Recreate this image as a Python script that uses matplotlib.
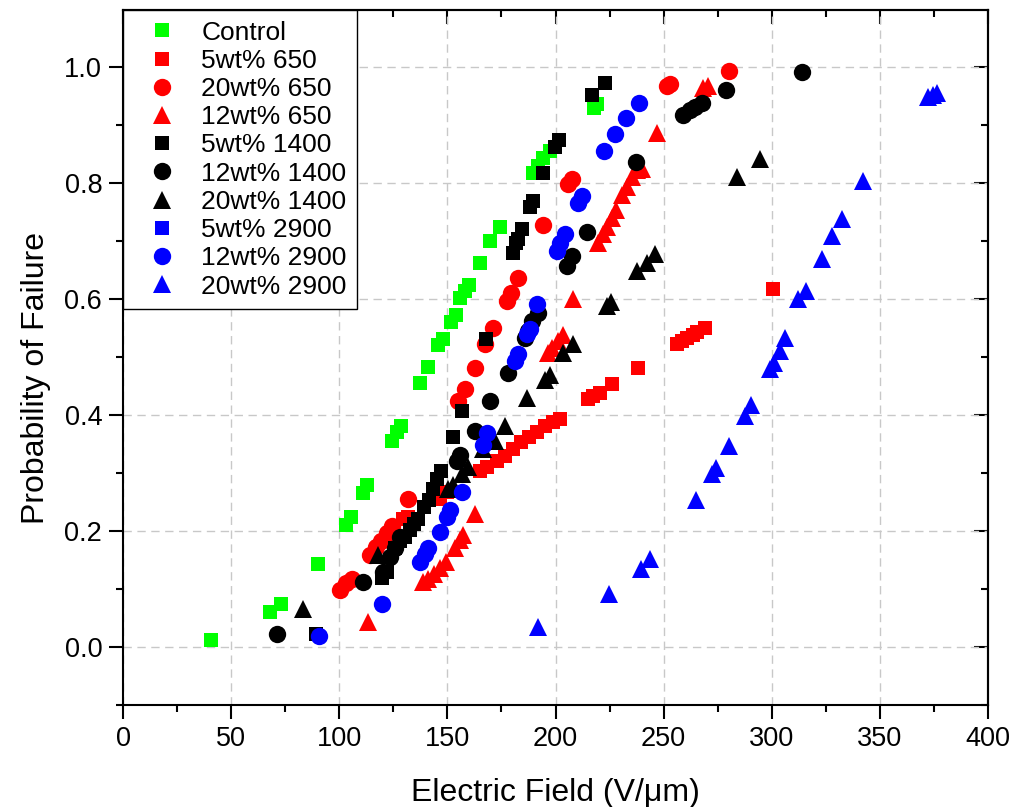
import matplotlib
matplotlib.use("Agg")
import matplotlib.pyplot as plt
from matplotlib.ticker import MultipleLocator

plt.rcParams['font.family'] = ['Liberation Sans', 'DejaVu Sans']

# breakdown field (V/um) and probability of failure
control_x = [40.7, 68, 73, 90, 103, 105.4, 111, 113, 124.4, 126.7, 128.6, 137.3, 141, 145.7, 148,
             151.7, 154, 155.8, 158, 160, 165, 169.7, 174.3, 189.6, 192, 194, 197.5, 217.8, 219]
control_y = [0.012, 0.061, 0.074, 0.144, 0.211, 0.225, 0.266, 0.279, 0.356, 0.37, 0.382, 0.455, 0.483,
             0.521, 0.531, 0.561, 0.573, 0.602, 0.614, 0.625, 0.663, 0.701, 0.725, 0.817, 0.83, 0.843,
             0.855, 0.929, 0.936]

s5_650_x = [129.5, 131.8, 146.6, 149.8, 165.1, 168.3, 172.9, 176.6, 180.3, 184.0, 187.7, 191.4, 195.1,
            198.8, 202.1, 215.0, 217.3, 220.6, 226.1, 238.2, 256.2, 258.5, 260.8, 263.6, 265.4, 269.1, 300.6]
s5_650_y = [0.220, 0.225, 0.256, 0.268, 0.303, 0.311, 0.320, 0.329, 0.341, 0.353, 0.362, 0.370, 0.381,
            0.388, 0.393, 0.427, 0.433, 0.438, 0.453, 0.481, 0.522, 0.528, 0.533, 0.538, 0.543, 0.550, 0.618]

s20_650_x = [100.3, 103.1, 105.9, 114.2, 117.0, 119.3, 122.1, 124.4, 131.8, 154.9, 158.2, 162.8, 167.4,
             171.1, 177.6, 179.4, 182.7, 194.2, 205.8, 207.6, 251.6, 252.9, 280.2]
s20_650_y = [0.099, 0.111, 0.118, 0.159, 0.173, 0.182, 0.196, 0.208, 0.256, 0.424, 0.445, 0.481, 0.522,
             0.550, 0.597, 0.611, 0.637, 0.727, 0.799, 0.808, 0.967, 0.971, 0.993]

s12_650_x = [113.3, 138.7, 141.0, 143.8, 146.6, 149.4, 153.5, 155.8, 157.2, 162.8, 196.5, 198.4, 201.2,
             203.5, 208.1, 219.7, 222.0, 223.8, 226.1, 228.0, 230.8, 233.1, 235.4, 237.7, 240.0, 246.9,
             268.2, 270.5]
s12_650_y = [0.043, 0.112, 0.118, 0.126, 0.137, 0.147, 0.171, 0.185, 0.194, 0.230, 0.507, 0.516, 0.528,
             0.538, 0.600, 0.697, 0.713, 0.725, 0.740, 0.754, 0.780, 0.794, 0.811, 0.822, 0.825, 0.886,
             0.964, 0.967]

s5_1400_x = [89.2, 119.8, 122.1, 125.8, 128.1, 130.4, 132.7, 134.6, 136.4, 139.2, 141.5, 143.4, 145.2,
             147.1, 152.6, 156.8, 167.9, 180.3, 181.7, 182.7, 184.5, 188.2, 189.6, 194.2, 199.8, 201.6,
             216.9, 222.9]
s5_1400_y = [0.022, 0.119, 0.130, 0.171, 0.182, 0.190, 0.202, 0.213, 0.220, 0.242, 0.254, 0.272, 0.289,
             0.303, 0.363, 0.407, 0.531, 0.680, 0.696, 0.704, 0.721, 0.758, 0.770, 0.817, 0.862, 0.874,
             0.952, 0.972]

s12_1400_x = [71.2, 111.0, 120.2, 123.5, 125.8, 128.1, 154.5, 155.8, 162.8, 169.7, 178.0, 185.9, 187.3,
              189.1, 191.9, 205.3, 207.6, 214.6, 237.2, 259.0, 262.2, 264.5, 267.7, 278.8, 314.0]
s12_1400_y = [0.022, 0.112, 0.130, 0.156, 0.170, 0.190, 0.320, 0.332, 0.372, 0.424, 0.472, 0.533, 0.545,
              0.562, 0.576, 0.657, 0.675, 0.716, 0.836, 0.917, 0.926, 0.931, 0.939, 0.960, 0.991]

s20_1400_x = [83.2, 117.9, 150.3, 152.6, 156.8, 159.5, 166.5, 172.0, 176.6, 186.8, 195.1, 197.5, 203.5,
              208.1, 223.8, 225.7, 237.7, 242.3, 246.0, 283.9, 294.6]
s20_1400_y = [0.066, 0.159, 0.272, 0.280, 0.298, 0.310, 0.341, 0.355, 0.381, 0.429, 0.460, 0.469, 0.507,
              0.522, 0.588, 0.595, 0.649, 0.663, 0.678, 0.811, 0.841]

s5_2900_x = []
s5_2900_y = []

s12_2900_x = [90.6, 119.8, 137.3, 139.7, 141.0, 146.6, 149.8, 151.2, 156.8, 166.5, 168.3, 181.3, 182.7,
              186.8, 188.2, 191.4, 200.7, 202.1, 204.4, 210.4, 212.3, 222.4, 227.5, 232.6, 238.6]
s12_2900_y = [0.019, 0.074, 0.147, 0.161, 0.170, 0.199, 0.225, 0.237, 0.268, 0.349, 0.369, 0.493, 0.505,
              0.540, 0.548, 0.592, 0.683, 0.696, 0.713, 0.765, 0.777, 0.855, 0.884, 0.912, 0.939]

s20_2900_x = [191.9, 224.7, 239.5, 243.7, 265.0, 272.4, 274.2, 280.2, 287.6, 290.4, 299.2, 301.0, 303.8,
              306.1, 312.1, 315.8, 323.2, 327.9, 332.5, 342.2, 372.3, 374.6, 376.4]
s20_2900_y = [0.035, 0.092, 0.135, 0.152, 0.254, 0.299, 0.308, 0.346, 0.398, 0.417, 0.479, 0.490, 0.510,
              0.533, 0.600, 0.614, 0.670, 0.709, 0.739, 0.804, 0.948, 0.952, 0.955]

labels = ['Control', '5wt% 650', '20wt% 650', '12wt% 650', '5wt% 1400',
          '12wt% 1400', '20wt% 1400', '5wt% 2900', '12wt% 2900', '20wt% 2900']
xs = [control_x, s5_650_x, s20_650_x, s12_650_x, s5_1400_x, s12_1400_x, s20_1400_x,
      s5_2900_x, s12_2900_x, s20_2900_x]
ys = [control_y, s5_650_y, s20_650_y, s12_650_y, s5_1400_y, s12_1400_y, s20_1400_y,
      s5_2900_y, s12_2900_y, s20_2900_y]
colors = ['#00ff00', '#ff0000', '#ff0000', '#ff0000', 'black', 'black', 'black',
          '#0000ff', '#0000ff', '#0000ff']
markers = ['s', 's', 'o', '^', 's', 'o', '^', 's', 'o', '^']
sizes = {'s': 10.5, 'o': 12.5, '^': 13}

fig = plt.figure(figsize=(10.10, 8.07), dpi=100)
ax = fig.add_axes([0.1218, 0.1264, 0.8564, 0.8612])

for x, y, c, m, lab in zip(xs, ys, colors, markers, labels):
    ax.plot(x, y, linestyle='none', marker=m, color=c, markersize=sizes[m],
            markeredgewidth=0, label=lab)

ax.set_xlim(0, 400)
ax.set_ylim(-0.1, 1.0986)
ax.xaxis.set_major_locator(MultipleLocator(50))
ax.xaxis.set_minor_locator(MultipleLocator(25))
ax.yaxis.set_major_locator(MultipleLocator(0.2))
ax.yaxis.set_minor_locator(MultipleLocator(0.1))
ax.yaxis.set_major_formatter(plt.FormatStrFormatter('%.1f'))

ax.set_axisbelow(True)
ax.grid(True, which='major', color='#c8c8c8', linestyle=(0, (6, 4)), linewidth=1)

for sp in ax.spines.values():
    sp.set_linewidth(1.5)
ax.tick_params(which='major', direction='out', length=10, width=1.5, labelsize=19.5, pad=5)
ax.tick_params(which='minor', direction='out', length=5, width=1.5)

# mirrored ticks pointing inwards on top and right
top = ax.secondary_xaxis('top')
top.xaxis.set_major_locator(MultipleLocator(50))
top.xaxis.set_minor_locator(MultipleLocator(25))
top.tick_params(which='major', direction='in', length=10, width=1.5, labeltop=False)
top.tick_params(which='minor', direction='in', length=5, width=1.5)
right = ax.secondary_yaxis('right')
right.yaxis.set_major_locator(MultipleLocator(0.2))
right.yaxis.set_minor_locator(MultipleLocator(0.1))
right.tick_params(which='major', direction='in', length=10, width=1.5, labelright=False)
right.tick_params(which='minor', direction='in', length=5, width=1.5)
for s in (top, right):
    for sp in s.spines.values():
        sp.set_linewidth(1.5)

ax.set_xlabel('Electric Field (V/\u03bcm)', fontsize=23, labelpad=19)
ax.set_ylabel('Probability of Failure', fontsize=23)
ax.yaxis.set_label_coords(-0.083, 0.47)

leg = ax.legend(loc='upper left', bbox_to_anchor=(0, 1), borderaxespad=0, fontsize=19,
                numpoints=1, handlelength=2.16, handletextpad=0.4, borderpad=0.4,
                labelspacing=0.16, fancybox=False, framealpha=1, edgecolor='black')
leg.get_frame().set_linewidth(1.0)

fig.savefig('out.png', dpi=100)
